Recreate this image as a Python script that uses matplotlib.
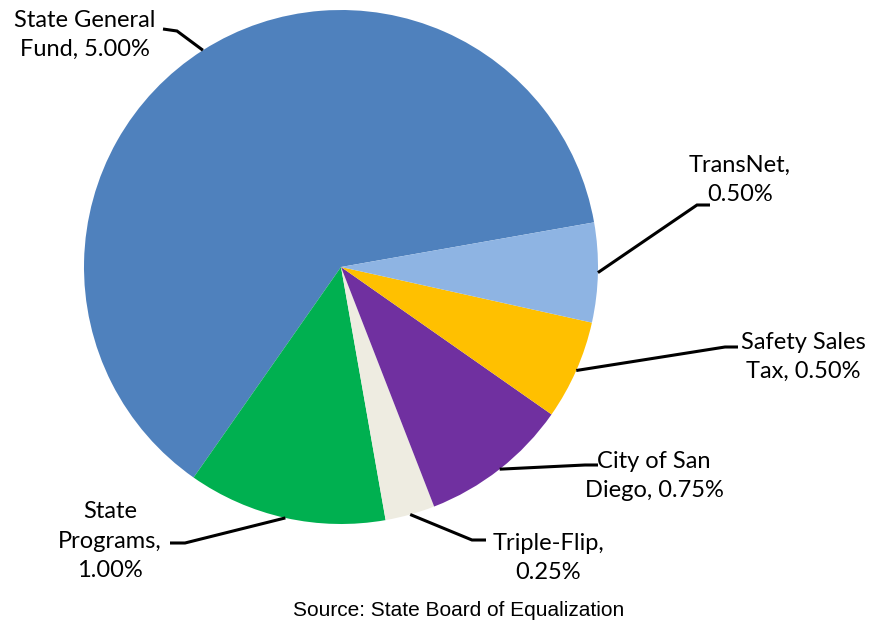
import numpy as np
import matplotlib.pyplot as plt

# sales tax components (percent)
labels = ["State General\nFund, 5.00%", "State\nPrograms,\n1.00%", "Triple-Flip,\n0.25%",
          "City of San\nDiego, 0.75%", "Safety Sales\nTax, 0.50%", "TransNet,\n0.50%"]
values = [5.00, 1.00, 0.25, 0.75, 0.50, 0.50]
colors = ["#4F81BD", "#00B050", "#EEECE1", "#7030A0", "#FFC000", "#8EB4E3"]

W, H = 871, 624
cx, cy, R = 341, H - 267, 257

# layout of the callouts (pixels, y up): elbow point, line end, text centre
elbows = [(177, H - 31), (185, H - 543), (472, H - 540), (585, H - 465), (725, H - 347), (697, H - 205)]
ends = [(163, H - 29), (170, H - 543), (486, H - 540), (598, H - 465), (738, H - 347), (710, H - 205)]
text_pos = [(85, H - 35), (110, H - 541), (548, H - 558), (654, H - 476), (803, H - 357), (740, H - 180)]

fig = plt.figure(figsize=(W / 100, H / 100), dpi=100)
ax = fig.add_axes([0, 0, 1, 1])

wedges, _ = ax.pie(values, colors=colors, startangle=10, counterclock=True,
                   center=(cx, cy), radius=R, wedgeprops=dict(linewidth=0))

for w, lab, el, en, tp in zip(wedges, labels, elbows, ends, text_pos):
    ang = np.deg2rad((w.theta1 + w.theta2) / 2)
    x0 = cx + R * np.cos(ang)
    y0 = cy + R * np.sin(ang)
    ax.plot([x0, el[0], en[0]], [y0, el[1], en[1]], color="black", lw=2.2,
            solid_capstyle="butt", solid_joinstyle="miter")
    ax.text(tp[0], tp[1], lab, ha="center", va="center", fontsize=17,
            family="Lato", linespacing=1.5, color="black")

ax.text(459, H - 610, "Source: State Board of Equalization", ha="center", va="center",
        fontsize=15, family="Liberation Sans")

ax.set_xlim(0, W)
ax.set_ylim(0, H)
ax.set_aspect("equal")
ax.axis("off")
fig.savefig("out.png", dpi=100)
